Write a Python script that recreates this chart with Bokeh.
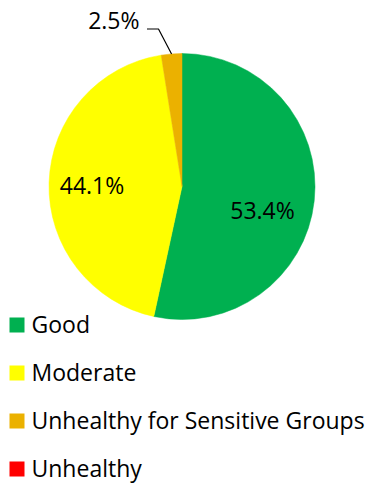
import numpy as np
from bokeh.plotting import figure
from bokeh.models import Range1d, ColumnDataSource
from bokeh.core.properties import value
from bokeh.embed import file_html
from bokeh.resources import INLINE

# Share of days per air quality category
categories = ["Good", "Moderate", "Unhealthy for Sensitive Groups", "Unhealthy"]
shares = [53.4, 44.1, 2.5, 0.0]
colors = ["#00B050", "#FFFF00", "#EBB100", "#FF0000"]

# Page layout in screen pixels (y grows downwards)
W, H = 370, 485
CX, CY, R = 181.5, 186.0, 133.0
FONT = value("Open Sans")
FONT_SIZE = "23px"
TEXT_SHIFT = -9.0  # glyph baseline correction for text placement
LEGEND_X, LEGEND_TOP_BASELINE, LEGEND_STEP, SWATCH = 31.0, 332.0, 48.0, 15.0
# label anchors (x centre, baseline) for the slices labelled inside the pie
inside_label_xy = {0: (262.0, 218.5), 1: (91.5, 193.5)}
# outside label: elbow and text anchor for the leader line
outside_elbow = (158.0, 28.5)
outside_text_end = (146.5, 28.5)


def sy(y):
    return H - y


def ty(y):
    return H - (y + TEXT_SHIFT)


frac = np.array(shares) / sum(shares)
cum = np.concatenate([[0.0], np.cumsum(frac)])
start = np.pi / 2 - 2 * np.pi * cum[:-1]
end = np.pi / 2 - 2 * np.pi * cum[1:]
pct = [f"{s:.1f}%" for s in shares]

p = figure(width=W, height=H, output_backend="svg", toolbar_location=None,
           x_range=Range1d(0, W), y_range=Range1d(0, H),
           min_border=0, outline_line_color=None,
           background_fill_color="white", border_fill_color="white")
p.axis.visible = False
p.grid.visible = False

# pie slices, clockwise from twelve o'clock
keep = [i for i, s in enumerate(shares) if s > 0]
wedges = ColumnDataSource(dict(
    start=[start[i] for i in keep], end=[end[i] for i in keep],
    color=[colors[i] for i in keep]))
p.wedge(x=CX, y=sy(CY), radius=R, start_angle="start", end_angle="end",
        direction="clock", fill_color="color", line_color="color",
        line_width=0.5, source=wedges)

# percentage labels inside the large slices
for i, (lx, ly) in inside_label_xy.items():
    p.text(x=[lx], y=[ty(ly)], text=[pct[i]], text_font=FONT,
           text_font_size=FONT_SIZE, text_color="black",
           text_align="center", text_baseline="alphabetic")

# small slice: leader line from the arc midpoint to an outside label
i = 2
mid = (start[i] + end[i]) / 2
ex, ey = CX + R * np.cos(mid), CY - R * np.sin(mid)
p.line(x=[ex, outside_elbow[0], outside_text_end[0]],
       y=[sy(ey), sy(outside_elbow[1]), sy(outside_text_end[1])],
       line_color="black", line_width=1.2)
p.text(x=[outside_text_end[0] - 7.5], y=[ty(outside_text_end[1])], text=[pct[i]],
       text_font=FONT, text_font_size=FONT_SIZE, text_color="black",
       text_align="right", text_baseline="alphabetic")

# legend: coloured squares and category names
base = [LEGEND_TOP_BASELINE + k * LEGEND_STEP for k in range(len(categories))]
legend = ColumnDataSource(dict(
    sx=[LEGEND_X - 14.5] * len(categories),
    sy=[sy(b - SWATCH / 2) for b in base],
    tx=[LEGEND_X] * len(categories),
    ty=[ty(b) for b in base],
    name=categories, color=colors))
p.rect(x="sx", y="sy", width=SWATCH, height=SWATCH, fill_color="color",
       line_color=None, source=legend)
p.text(x="tx", y="ty", text="name", text_font=FONT, text_font_size=FONT_SIZE,
       text_color="black", text_align="left", text_baseline="alphabetic",
       source=legend)

open("out.html", "w").write(file_html(p, INLINE))
